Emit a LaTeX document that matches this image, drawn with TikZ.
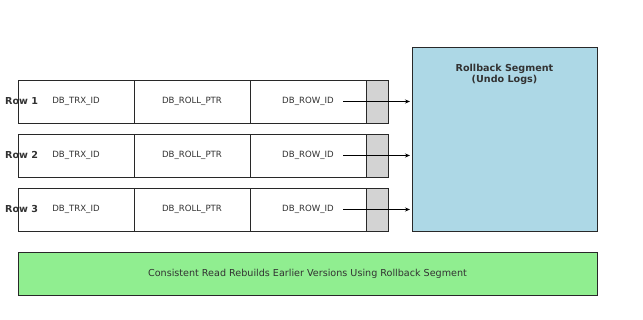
\documentclass[tikz,border=0pt]{standalone}
\usepackage{fontspec}
\setmainfont{DejaVu Sans}
\usepackage{xcolor}
\usepackage{tikz}
\usetikzlibrary{
  positioning,
  arrows.meta,
  calc
}
\definecolor{cellborder}{RGB}{40,40,40}
\definecolor{celltext}{RGB}{50,50,50}
\definecolor{ptrbg}{RGB}{211,211,211}
\definecolor{undobg}{RGB}{173,216,230}
\definecolor{readbg}{RGB}{144,238,144}
\definecolor{arrowcolor}{RGB}{0,0,0}
\tikzset{
  fieldcell/.style={
    draw=cellborder, fill=white, line width=0.7pt,
    minimum width=116pt, minimum height=43pt,
    inner sep=0pt, outer sep=0pt,
    font=\fontsize{8.6}{10}\selectfont, text=celltext
  },
  ptrcell/.style={
    draw=cellborder, fill=ptrbg, line width=0.7pt,
    minimum width=22pt, minimum height=43pt,
    inner sep=0pt, outer sep=0pt
  },
  rowlabel/.style={
    anchor=west, inner sep=0pt,
    font=\fontsize{9.6}{11}\selectfont\bfseries, text=celltext
  },
  undobox/.style={
    draw=cellborder, fill=undobg, line width=0.7pt,
    minimum width=185pt, minimum height=184pt,
    inner sep=0pt, outer sep=0pt
  },
  readbox/.style={
    draw=cellborder, fill=readbg, line width=0.7pt,
    minimum width=579pt, minimum height=43pt,
    inner sep=0pt, outer sep=0pt,
    font=\fontsize{9.6}{11}\selectfont, text=celltext
  },
  ptrarrow/.style={
    -{Stealth[length=5pt,width=4pt]}, line width=0.8pt, draw=arrowcolor
  }
}

\begin{document}
\begin{tikzpicture}[
    node distance=0pt and 0pt
  ]
    \useasboundingbox (0,0) rectangle (643pt,320pt);

    % row 1
    \node[fieldcell] (trx1) at (76pt,218.5pt) {DB\_TRX\_ID};
    \node[fieldcell, right=of trx1] (roll1) {DB\_ROLL\_PTR};
    \node[fieldcell, right=of roll1] (rid1) {DB\_ROW\_ID};
    \node[ptrcell, right=of rid1] (ptr1) {};
    \node[rowlabel] (lbl1) at ([xshift=-13pt]trx1.west) {Row 1};

    % row 2
    \node[fieldcell] (trx2) at (76pt,164.5pt) {DB\_TRX\_ID};
    \node[fieldcell, right=of trx2] (roll2) {DB\_ROLL\_PTR};
    \node[fieldcell, right=of roll2] (rid2) {DB\_ROW\_ID};
    \node[ptrcell, right=of rid2] (ptr2) {};
    \node[rowlabel] (lbl2) at ([xshift=-13pt]trx2.west) {Row 2};

    % row 3
    \node[fieldcell] (trx3) at (76pt,110.5pt) {DB\_TRX\_ID};
    \node[fieldcell, right=of trx3] (roll3) {DB\_ROLL\_PTR};
    \node[fieldcell, right=of roll3] (rid3) {DB\_ROW\_ID};
    \node[ptrcell, right=of rid3] (ptr3) {};
    \node[rowlabel] (lbl3) at ([xshift=-13pt]trx3.west) {Row 3};

    % rollback segment
    \node[undobox] (undo) at (504.5pt,181pt) {};
    \node[below=17pt of undo.north, align=center, inner sep=0pt,
          font=\fontsize{9.6}{11.5}\selectfont\bfseries, text=celltext] (undotitle) {
      Rollback Segment\\
      (Undo Logs)
    };

    % consistent read
    \node[readbox] (cread) at (307.5pt,46.5pt) {Consistent Read Rebuilds Earlier Versions Using Rollback Segment};

    \draw[ptrarrow] ([xshift=-23pt]rid1.east) -- ([xshift=-2pt]rid1.east -| undo.west);
    \draw[ptrarrow] ([xshift=-23pt]rid2.east) -- ([xshift=-2pt]rid2.east -| undo.west);
    \draw[ptrarrow] ([xshift=-23pt]rid3.east) -- ([xshift=-2pt]rid3.east -| undo.west);

  \end{tikzpicture}
\end{document}
